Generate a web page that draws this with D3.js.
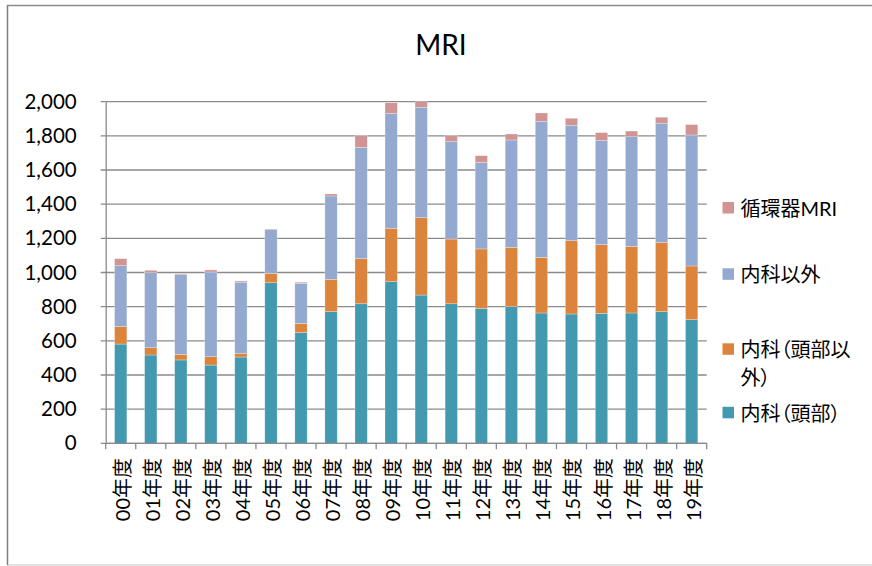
<!DOCTYPE html>
<html>
<head>
<meta charset="utf-8">
<script src="https://cdn.jsdelivr.net/npm/d3@7/dist/d3.min.js"></script>
<style>
  html, body { margin: 0; padding: 0; background: #fff; }
  svg text { font-feature-settings: "palt"; }
</style>
</head>
<body>
<svg id="chart" width="872" height="566"></svg>
<script>
const categories = ["00年度","01年度","02年度","03年度","04年度","05年度","06年度","07年度","08年度","09年度",
                    "10年度","11年度","12年度","13年度","14年度","15年度","16年度","17年度","18年度","19年度"];
const seriesNames = ["内科（頭部）", "内科（頭部以外）", "内科以外", "循環器MRI"];
const headValues      = [581, 517, 488, 458, 505, 940, 648, 771, 817, 946, 868, 817, 790, 800, 763, 757, 761, 763, 771, 724];
const nonHeadValues   = [102,  43,  33,  49,  22,  55,  54, 189, 264, 313, 453, 379, 348, 347, 326, 429, 402, 390, 406, 314];
const otherDeptValues = [357, 439, 466, 496, 416, 256, 235, 488, 652, 673, 646, 570, 507, 629, 796, 676, 609, 642, 697, 767];
const cardioValues    = [ 41,  14,   6,  12,   7,   4,   6,  12,  68,  62,  33,  35,  39,  35,  49,  41,  47,  33,  35,  61];
const yTicks = [0, 200, 400, 600, 800, 1000, 1200, 1400, 1600, 1800, 2000];
const colors = ["#4399B0", "#DD843C", "#93A9CF", "#D09493"];

const keys = ["head", "nonHead", "other", "cardio"];
const rows = categories.map((c, i) => ({
  cat: c, head: headValues[i], nonHead: nonHeadValues[i], other: otherDeptValues[i], cardio: cardioValues[i]
}));

const svg = d3.select("#chart");
const latin = "Lato, 'Noto Sans CJK JP', sans-serif";
const cjk = "Lato, 'Noto Sans CJK JP', sans-serif";

// chart frame
svg.append("rect").attr("x", 7.5).attr("y", 5.5).attr("width", 880).attr("height", 559.5)
  .attr("fill", "#fff").attr("stroke", "#c8c8c8").attr("stroke-width", 1);
svg.append("line").attr("x1", 7.5).attr("x2", 7.5).attr("y1", 5).attr("y2", 565)
  .attr("stroke", "#808080").attr("stroke-width", 1.5);
svg.append("line").attr("x1", 7).attr("x2", 872).attr("y1", 5.5).attr("y2", 5.5)
  .attr("stroke", "#8c8c8c").attr("stroke-width", 1.5);

const plotLeft = 105.7, plotRight = 706.7, plotTop = 101.7, plotBottom = 443.3;

const x = d3.scaleBand().domain(categories).range([plotLeft, plotRight]).paddingInner(0.59).paddingOuter(0.295);
const y = d3.scaleLinear().domain([0, 2000]).range([plotBottom, plotTop]);

// title
svg.append("text").attr("x", 441).attr("y", 54.5).attr("text-anchor", "middle")
  .attr("font-family", latin).attr("font-size", 28).attr("fill", "#000").text("MRI");

// gridlines
svg.append("g").selectAll("line").data(yTicks).join("line")
  .attr("x1", plotLeft - 5).attr("x2", plotRight)
  .attr("y1", d => y(d)).attr("y2", d => y(d))
  .attr("stroke", "#8a8a8a").attr("stroke-width", 1.3);

// y axis
const yAxis = svg.append("g").attr("transform", `translate(${plotLeft},0)`)
  .call(d3.axisLeft(y).tickValues(yTicks).tickFormat(d3.format(",")).tickSize(0).tickPadding(29));
yAxis.select(".domain").attr("stroke", "#8a8a8a").attr("stroke-width", 1.3);
yAxis.selectAll("text").attr("font-family", latin).attr("font-size", 20.5).attr("fill", "#000");

// stacked bars
const stacked = d3.stack().keys(keys)(rows);
svg.append("g").selectAll("g").data(stacked).join("g")
  .attr("fill", (d, i) => colors[i])
  .selectAll("rect").data(d => d).join("rect")
  .attr("x", d => x(d.data.cat))
  .attr("width", x.bandwidth())
  .attr("y", d => y(d[1]))
  .attr("height", d => Math.max(0, y(d[0]) - y(d[1])))
  .attr("stroke", "rgba(255,255,255,0.45)").attr("stroke-width", 0.6);

// x axis line and boundary ticks
const step = x.step();
const boundaries = d3.range(categories.length + 1).map(i => plotLeft + i * step);
svg.append("line").attr("x1", plotLeft).attr("x2", plotRight).attr("y1", plotBottom).attr("y2", plotBottom)
  .attr("stroke", "#8a8a8a").attr("stroke-width", 1.3);
svg.append("g").selectAll("line").data(boundaries).join("line")
  .attr("x1", d => d).attr("x2", d => d).attr("y1", plotBottom).attr("y2", plotBottom + 6)
  .attr("stroke", "#8a8a8a").attr("stroke-width", 1.3);

// x labels (rotated)
svg.append("g").selectAll("text").data(categories).join("text")
  .attr("transform", d => `translate(${x(d) + x.bandwidth() / 2 + 1},458) rotate(-90)`)
  .attr("text-anchor", "end").attr("dominant-baseline", "central")
  .attr("font-family", cjk).attr("font-size", 20).attr("fill", "#000")
  .text(d => d);

// legend (reverse order, top = 循環器MRI)
const legendY = [207.7, 274, 349, 412.5];
const legendOrder = [3, 2, 1, 0];
const lg = svg.append("g");
legendOrder.forEach((si, k) => {
  const cy = legendY[k];
  lg.append("rect").attr("x", 722.5).attr("y", cy - 5.7).attr("width", 11.5).attr("height", 11.5)
    .attr("fill", colors[si]);
  const t = lg.append("text").attr("x", 740.5).attr("y", cy)
    .attr("dominant-baseline", "central")
    .attr("font-family", cjk).attr("font-size", 20).attr("fill", "#000");
  const name = seriesNames[si];
  const maxW = 126;
  let line = "", lines = [];
  const tmp = t.append("tspan");
  for (const ch of name) {
    tmp.text(line + ch);
    if (tmp.node().getComputedTextLength() > maxW && line.length) { lines.push(line); line = ch; }
    else line += ch;
  }
  lines.push(line);
  tmp.remove();
  lines.forEach((ln, j) => {
    t.append("tspan").attr("x", 740.5).attr("dy", j === 0 ? 0 : 28).text(ln);
  });
});
</script>
</body>
</html>
